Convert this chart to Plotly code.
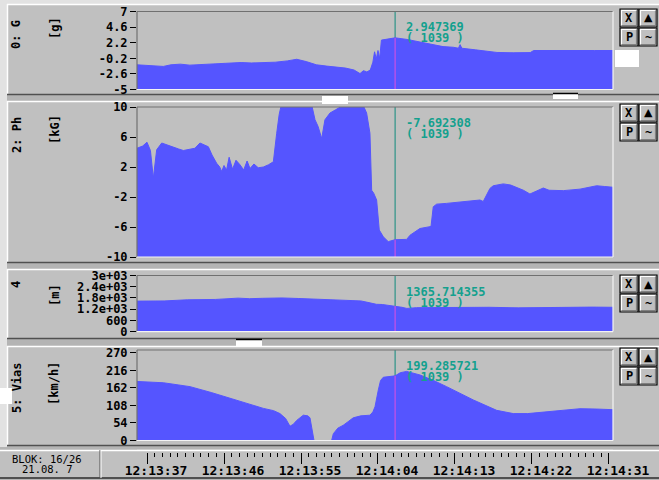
import plotly.graph_objects as go

W, H = 659, 480

# ---------------- data ----------------
time_ticks = [0, 9, 18, 27, 36, 45, 54]
time_labels = ["12:13:37", "12:13:46", "12:13:55", "12:14:04",
               "12:14:13", "12:14:22", "12:14:31"]
t_range = [-1.17, 54.47]
cursor_t = 29.0
cursor_index = 1039
blok_text = "BLOK: 16/26"
date_text = "21.08. 7"

names = ["0: G", "2: Ph", "4", "5: Vias"]
units = ["[g]", "[kG]", "[m]", "[km/h]"]
cursor_values = [2.947369, -7.692308, 1365.714355, 199.285721]

g_t = [-1.17, -0.2, 0.8, 1.9, 2.8, 3.9, 5.0, 5.8, 6.9, 8.0, 9.7, 11.0, 12.2,
       13.6, 15.0, 16.4, 17.5, 18.6, 19.8, 21.0, 22.2, 23.2, 24.2, 24.9, 25.3,
       25.7, 26.1, 26.4, 26.6, 26.8, 27.0, 27.2, 27.4, 28.2, 29.0, 30.4, 31.6,
       33.1, 34.6, 35.8, 36.4, 36.6, 36.8, 38.4, 40.9, 42.8, 44.8, 45.2, 47.5,
       50.2, 52.3, 54.47]
g_v = [-1.2, -1.25, -1.3, -1.45, -1.2, -1.1, -1.25, -1.2, -1.05, -0.95, -0.9,
       -0.85, -0.92, -0.9, -0.8, -0.6, -0.35, -0.7, -1.2, -1.4, -1.55, -1.7,
       -2.0, -2.55, -2.1, -2.3, -2.0, -0.8, 0.8, -0.3, 1.0, -0.2, 2.6, 2.75,
       2.947369, 2.7, 2.4, 1.95, 1.6, 1.5, 1.35, 1.9, 1.35, 1.1, 0.7, 0.65,
       0.68, 1.0, 1.02, 1.08, 1.0, 1.0]

ph_t = [-1.17, -0.5, 0.0, 0.4, 0.74, 1.13, 1.72, 2.4, 3.08, 3.7,
        4.25, 5.0, 5.6, 6.19, 6.7, 7.17, 7.6, 8.14, 8.5, 8.73,
        9.0, 9.3, 9.6, 10.0, 10.4, 10.87, 11.3, 11.7, 12.04, 12.5,
        13.0, 13.6, 14.2, 14.77, 15.16, 15.45, 15.74, 16.5, 17.5, 18.5,
        19.25, 19.64, 20.0, 20.42, 20.8, 21.39, 22.0, 23.34, 24.5, 25.28,
        25.67, 26.06, 26.26, 26.5, 26.84, 27.15, 27.62, 28.2, 29.0, 30.35,
        30.74, 31.9, 33.08, 33.2, 33.46, 33.86, 35.0, 36.97, 38.0, 38.92,
        39.3, 40.09, 40.47, 41.0, 41.64, 42.5, 43.2, 44.0, 44.76, 45.5,
        46.32, 47.0, 48.66, 50.61, 51.5, 52.56, 53.5, 54.47]
ph_v = [4.5, 4.8, 5.3, 4.2, 0.5, 4.3, 5.2, 4.9, 4.7, 4.4,
        4.2, 4.4, 4.5, 5.2, 4.9, 4.7, 3.6, 2.5, 2.0, 1.4,
        2.2, 1.6, 3.3, 1.7, 2.9, 2.3, 1.6, 2.8, 1.8, 2.4,
        1.9, 2.0, 2.3, 2.7, 6.5, 9.0, 10.5, 10.5, 10.5, 10.5,
        10.3, 8.3, 7.4, 5.8, 8.3, 9.2, 9.6, 10.5, 10.5, 10.2,
        9.2, 6.5, -1.1, -1.5, -2.4, -6.4, -7.3, -7.95, -7.692308, -7.65,
        -7.1, -6.2, -5.95, -5.9, -3.3, -2.95, -2.85, -2.65, -2.55, -2.4,
        -2.6, -0.85, -0.5, -0.35, -0.25, -0.4, -0.7, -1.1, -1.6, -1.2,
        -0.8, -1.1, -1.15, -0.95, -0.7, -0.5, -0.6, -0.7]

alt_t = [-1.17, 2.0, 4.72, 6.0, 8.0, 10.64, 12.0, 13.5, 15.77, 17.74, 19.5,
         21.7, 23.5, 25.0, 25.63, 26.3, 26.82, 27.5, 29.0, 29.8, 30.37, 31.5,
         33.53, 35.5, 37.47, 40.0, 43.4, 46.0, 49.31, 52.0, 54.47]
alt_v = [1630, 1640, 1700, 1710, 1720, 1790, 1760, 1780, 1800, 1770, 1740,
         1710, 1690, 1640, 1580, 1530, 1460, 1450, 1365.714355, 1300, 1240,
         1280, 1285, 1300, 1310, 1300, 1270, 1290, 1300, 1310, 1300]

vias_t = [-1.17, 1.91, 3.5, 5.03, 7.5, 9.7, 11.5, 13.6, 14.8, 15.54,
          16.2, 16.71, 17.1, 17.5, 18.27, 18.8, 19.05, 19.3, 19.52, 21.58,
          21.78, 22.3, 22.94, 23.5, 24.11, 25.0, 26.06, 26.4, 26.65, 27.04,
          27.3, 27.62, 28.3, 29.0, 29.6, 30.35, 31.91, 33.5, 35.02, 36.5,
          38.14, 40.87, 42.81, 44.5, 46.71, 48.5, 50.61, 52.5, 54.47]
vias_v = [182, 178, 172, 166, 148, 130, 115, 99, 92, 83,
          68, 44, 50, 62, 78, 76, 70, 30, 0, 0,
          21, 38, 47, 58, 70, 76, 78, 88, 104, 156,
          185, 195, 197, 199.285721, 209, 213, 202, 185, 166, 146,
          125, 93, 83, 83, 88, 92, 98, 97, 95]

g_ticks = [7, 4.6, 2.2, -0.2, -2.6, -5]
g_ticktext = ["7", "4.6", "2.2", "-0.2", "-2.6", "-5"]
ph_ticks = [10, 6, 2, -2, -6, -10]
ph_ticktext = ["10", "6", "2", "-2", "-6", "-10"]
alt_ticks = [3000, 2400, 1800, 1200, 600, 0]
alt_ticktext = ["3e+03", "2.4e+03", "1.8e+03", "1.2e+03", "600", "0"]
vias_ticks = [270, 216, 162, 108, 54, 0]
vias_ticktext = ["270", "216", "162", "108", "54", "0"]

# ---------------- style / layout ----------------
MONO = "DejaVu Sans Mono"
BLUE = "#5555ff"
MAGENTA = "#e050e0"
TEAL_LINE = "#108a7c"
TEAL_TEXT = "#14a08e"
PANEL = "#c0c0c0"
DARK = "#505050"
WHITE = "#ffffff"

PLOT_X0, PLOT_X1 = 137, 613


def px_x(px):
    return px / W


def px_y(py):
    return 1 - py / H


series = [(g_t, g_v), (ph_t, ph_v), (alt_t, alt_v), (vias_t, vias_v)]
ticks = [(g_ticks, g_ticktext), (ph_ticks, ph_ticktext),
         (alt_ticks, alt_ticktext), (vias_ticks, vias_ticktext)]
geom = [
    dict(rng=[-5, 7], top=11.5, bot=89.5),
    dict(rng=[-10, 10], top=107, bot=257),
    dict(rng=[0, 3000], top=275.5, bot=331.6),
    dict(rng=[0, 279], top=350, bot=440.5),
]
label_pos = [((16, 35), (55, 28)), ((17, 135), (55, 130)),
             ((16, 285), (55, 295)), ((17, 388), (54, 384))]
panel_boxes = [(4, 95), (101, 263), (269, 339), (346, 446)]
button_rows = [((9, 27), (28, 46)), ((104, 122), (123, 141)),
               ((275, 293), (294, 312)), ((348, 366), (367, 385))]
button_cols = [(620, 638), (639, 657)]
button_labels = [["X", "\u25b2"], ["P", "~"]]

fig = go.Figure()
shapes = []
annotations = []
layout = dict(
    width=W, height=H, autosize=False, margin=dict(l=0, r=0, t=0, b=0, pad=0),
    paper_bgcolor="#b4b4b4", plot_bgcolor=PANEL,
    showlegend=False, hovermode=False,
)

# background strips and panel boxes (paper, below)
shapes.append(dict(type="rect", xref="paper", yref="paper", x0=0, x1=px_x(7),
                   y0=px_y(447), y1=1, fillcolor="#e2e2e2", line=dict(width=0),
                   layer="below"))
shapes.append(dict(type="rect", xref="paper", yref="paper", x0=0, x1=1,
                   y0=px_y(4), y1=1, fillcolor="#e2e2e2", line=dict(width=0),
                   layer="below"))
for top, bot in panel_boxes:
    shapes.append(dict(type="rect", xref="paper", yref="paper", x0=px_x(7), x1=1,
                       y0=px_y(bot), y1=px_y(top), fillcolor=PANEL,
                       line=dict(width=0), layer="below"))
    shapes.append(dict(type="line", xref="paper", yref="paper", x0=px_x(7), x1=1,
                       y0=px_y(top + 0.5), y1=px_y(top + 0.5),
                       line=dict(color=WHITE, width=1.5), layer="below"))
    shapes.append(dict(type="line", xref="paper", yref="paper", x0=px_x(7.5), x1=px_x(7.5),
                       y0=px_y(bot), y1=px_y(top),
                       line=dict(color=WHITE, width=1.5), layer="below"))
    shapes.append(dict(type="line", xref="paper", yref="paper", x0=px_x(7), x1=1,
                       y0=px_y(bot - 0.5), y1=px_y(bot - 0.5),
                       line=dict(color=DARK, width=1.5), layer="below"))

# bottom status bar
shapes.append(dict(type="rect", xref="paper", yref="paper", x0=0, x1=1,
                   y0=px_y(478), y1=px_y(450), fillcolor=PANEL,
                   line=dict(width=0), layer="below"))
shapes.append(dict(type="line", xref="paper", yref="paper", x0=0, x1=1,
                   y0=px_y(450.5), y1=px_y(450.5), line=dict(color=WHITE, width=1.5),
                   layer="below"))
shapes.append(dict(type="line", xref="paper", yref="paper", x0=0, x1=1,
                   y0=px_y(478), y1=px_y(478), line=dict(color=DARK, width=2),
                   layer="below"))
shapes.append(dict(type="line", xref="paper", yref="paper", x0=px_x(100), x1=px_x(100),
                   y0=px_y(478), y1=px_y(450), line=dict(color=DARK, width=1),
                   layer="below"))
shapes.append(dict(type="line", xref="paper", yref="paper", x0=px_x(101), x1=px_x(101),
                   y0=px_y(478), y1=px_y(450), line=dict(color=WHITE, width=1),
                   layer="below"))

tickfont = dict(family=MONO, size=12, color="#000000", weight="bold")

for i, ((t, v), (tv, tt), g) in enumerate(zip(series, ticks, geom)):
    n = i + 1
    xa = "x" if n == 1 else f"x{n}"
    ya = "y" if n == 1 else f"y{n}"
    base = g["rng"][0]
    layout[f"xaxis{'' if n == 1 else n}"] = dict(
        domain=[px_x(PLOT_X0), px_x(PLOT_X1)], range=t_range, anchor=ya,
        showticklabels=False, ticks="", showgrid=False, zeroline=False,
        showline=False, fixedrange=True, automargin=False)
    layout[f"yaxis{'' if n == 1 else n}"] = dict(
        domain=[px_y(g["bot"]), px_y(g["top"])], range=g["rng"], anchor=xa,
        tickmode="array", tickvals=tv, ticktext=tt, ticks="outside", ticklen=6,
        tickcolor="#000000", tickwidth=1, tickfont=tickfont, automargin=False,
        showgrid=False, zeroline=False, showline=False, fixedrange=True)

    # baseline then filled series
    fig.add_trace(go.Scatter(x=t_range, y=[base, base], mode="lines",
                             line=dict(width=0, color=BLUE), xaxis=xa, yaxis=ya,
                             hoverinfo="skip"))
    fig.add_trace(go.Scatter(x=t, y=v, mode="lines", fill="tonexty",
                             fillcolor=BLUE, line=dict(color=BLUE, width=1),
                             xaxis=xa, yaxis=ya, hoverinfo="skip"))
    # cursor part inside the fill
    fig.add_trace(go.Scatter(x=[cursor_t, cursor_t], y=[base, cursor_values[i]],
                             mode="lines", line=dict(color=MAGENTA, width=1),
                             xaxis=xa, yaxis=ya, hoverinfo="skip"))
    # cursor line (teal above fill)
    shapes.append(dict(type="line", xref=xa, yref=f"{ya} domain",
                       x0=cursor_t, x1=cursor_t, y0=0, y1=1,
                       line=dict(color=TEAL_LINE, width=1), layer="below"))
    # sunken frame
    for (x0, x1, y0, y1, c) in [(0, 1, 1, 1, "#707070"), (0, 0, 0, 1, "#707070"),
                                (0, 1, 0, 0, "#f4f4f4"), (1, 1, 0, 1, "#f4f4f4")]:
        shapes.append(dict(type="line", xref=f"{xa} domain", yref=f"{ya} domain",
                           x0=x0, x1=x1, y0=y0, y1=y1, line=dict(color=c, width=1.2),
                           layer="above"))
    # cursor readouts
    for text, off in [(f"{cursor_values[i]:.6f}", 16), (f"( {cursor_index} )", 27)]:
        annotations.append(dict(
            x=cursor_t, xref=xa, y=1, yref=f"{ya} domain", text=text,
            showarrow=False, xanchor="left", yanchor="middle", xshift=9,
            yshift=-off, font=dict(family=MONO, size=12, color=TEAL_TEXT, weight="bold")))
    # channel name and unit (rotated)
    for text, (cx, cy) in zip([names[i], units[i]], label_pos[i]):
        annotations.append(dict(
            x=px_x(cx), y=px_y(cy), xref="paper", yref="paper", text=text,
            showarrow=False, textangle=-90, xanchor="center", yanchor="middle",
            font=dict(family=MONO, size=12, color="#000000", weight="bold")))
    # buttons
    for r, (by0, by1) in enumerate(button_rows[i]):
        for c, (bx0, bx1) in enumerate(button_cols):
            shapes.append(dict(type="rect", xref="paper", yref="paper",
                               x0=px_x(bx0), x1=px_x(bx1), y0=px_y(by1), y1=px_y(by0),
                               fillcolor=PANEL, line=dict(color="#000000", width=1.2),
                               layer="above"))
            shapes.append(dict(type="path", xref="paper", yref="paper",
                               path=(f"M {px_x(bx0 + 1.5)} {px_y(by1 - 1.5)} "
                                     f"L {px_x(bx0 + 1.5)} {px_y(by0 + 1.5)} "
                                     f"L {px_x(bx1 - 1.5)} {px_y(by0 + 1.5)}"),
                               line=dict(color=WHITE, width=1.2), layer="above"))
            shapes.append(dict(type="path", xref="paper", yref="paper",
                               path=(f"M {px_x(bx0 + 1.5)} {px_y(by1 - 1.5)} "
                                     f"L {px_x(bx1 - 1.5)} {px_y(by1 - 1.5)} "
                                     f"L {px_x(bx1 - 1.5)} {px_y(by0 + 1.5)}"),
                               line=dict(color="#808080", width=1.2), layer="above"))
            lab = button_labels[r][c]
            annotations.append(dict(
                x=px_x((bx0 + bx1) / 2), y=px_y((by0 + by1) / 2), xref="paper",
                yref="paper", text=lab, showarrow=False, xanchor="center",
                yanchor="middle",
                font=dict(family="DejaVu Sans" if lab == "\u25b2" else MONO,
                          size=11 if lab == "\u25b2" else 12, color="#000000",
                          weight="bold")))

# GUI artefacts (scroll thumbs / white blocks)
for (x0, x1, y0, y1) in [(615, 639, 50, 67), (322, 348, 96, 104),
                         (553, 578, 94, 99), (236, 262, 340, 347), (0, 12, 388, 404)]:
    shapes.append(dict(type="rect", xref="paper", yref="paper", x0=px_x(x0), x1=px_x(x1),
                       y0=px_y(y1), y1=px_y(y0), fillcolor=WHITE, line=dict(width=0),
                       layer="above"))
for (x0, x1, yy) in [(553, 578, 93.5), (236, 262, 339.5)]:
    shapes.append(dict(type="line", xref="paper", yref="paper", x0=px_x(x0), x1=px_x(x1),
                       y0=px_y(yy), y1=px_y(yy), line=dict(color="#000000", width=1.5),
                       layer="above"))

# time axis strip
minor_vals = [round(0.9 * k, 2) for k in range(1, 61) if k % 10]
layout["xaxis5"] = dict(
    domain=[px_x(PLOT_X0), px_x(PLOT_X1)], range=t_range, anchor="y5",
    tickmode="array", tickvals=time_ticks, ticktext=time_labels,
    ticks="outside", ticklen=11, tickwidth=1, tickcolor="#000000",
    ticklabelshift=9, ticklabelstandoff=-5,
    showline=False, showgrid=False, zeroline=False,
    automargin=False,
    tickfont=dict(family=MONO, size=13, color="#000000", weight="bold"),
    minor=dict(tickmode="array", tickvals=minor_vals, ticks="outside",
               ticklen=4, tickwidth=1, tickcolor="#000000", showgrid=False),
    fixedrange=True)
layout["yaxis5"] = dict(domain=[px_y(452), px_y(449)], range=[0, 1], anchor="x5",
                        visible=False, fixedrange=True, automargin=False)
fig.add_trace(go.Scatter(x=[], y=[], xaxis="x5", yaxis="y5"))

annotations.append(dict(x=px_x(47), y=px_y(459), xref="paper", yref="paper",
                        text=blok_text, showarrow=False, xanchor="center", yanchor="middle",
                        font=dict(family=MONO, size=10.5, color="#000000")))
annotations.append(dict(x=px_x(47), y=px_y(469), xref="paper", yref="paper",
                        text=date_text, showarrow=False, xanchor="center", yanchor="middle",
                        font=dict(family=MONO, size=10.5, color="#000000")))

layout["shapes"] = shapes
layout["annotations"] = annotations
fig.update_layout(**layout)
fig.write_html(
    "out.html",
    config={"responsive": False, "displayModeBar": False},
    post_script="document.body.style.margin='0px';document.body.style.overflow='hidden';",
)
